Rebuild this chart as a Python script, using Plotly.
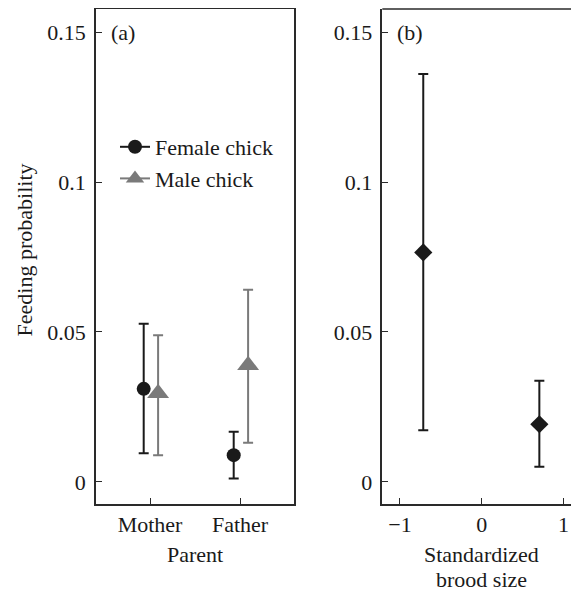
import plotly.graph_objects as go

# ---- data ----
parents = ["Mother", "Father"]
female_mean = [0.031, 0.0089]
female_hi = [0.0527, 0.0167]
female_lo = [0.0095, 0.0011]
male_mean = [0.0295, 0.0389]
male_hi = [0.0489, 0.0641]
male_lo = [0.0089, 0.0130]

brood_x = [-0.715, 0.705]
brood_mean = [0.0765, 0.0192]
brood_hi = [0.136, 0.0337]
brood_lo = [0.0172, 0.0050]

y_ticks = [0, 0.05, 0.1, 0.15]
y_ticktext = ["0", "0.05", "0.1", "0.15"]

# page has an 8px body margin; figure drawn 8px in from the top-left
OFF = 8
W, H = 579 - OFF, 591 - OFF
FONT = "Liberation Serif"
FS = 22
BLACK = "#1a1a1a"
GRAY = "#7a7a7a"
AX = "#2a2a2a"

TOP = 9 - OFF
BOT = 504 - OFF
PLOT_H = BOT - TOP

def py(page_y):
    """page pixel y -> paper fraction (relative to plot area)"""
    return (BOT - (page_y - OFF)) / PLOT_H

pos = list(range(len(parents)))
dodge_f, dodge_m = -0.07, 0.09

fig = go.Figure()

def errs(mean, hi, lo):
    return [h - m for m, h in zip(mean, hi)], [m - l for m, l in zip(mean, lo)]

ep, em = errs(female_mean, female_hi, female_lo)
fig.add_trace(go.Scatter(
    x=[p + dodge_f for p in pos], y=female_mean, mode="markers",
    marker=dict(symbol="circle", size=14, color=BLACK),
    error_y=dict(type="data", array=ep, arrayminus=em, color=BLACK, thickness=2, width=5),
    xaxis="x", yaxis="y", showlegend=False))
ep, em = errs(male_mean, male_hi, male_lo)
fig.add_trace(go.Scatter(
    x=[p + dodge_m for p in pos], y=male_mean, mode="markers",
    marker=dict(symbol="triangle-up", size=19, color=GRAY),
    error_y=dict(type="data", array=ep, arrayminus=em, color=GRAY, thickness=2, width=5),
    xaxis="x", yaxis="y", showlegend=False))
ep, em = errs(brood_mean, brood_hi, brood_lo)
fig.add_trace(go.Scatter(
    x=brood_x, y=brood_mean, mode="markers",
    marker=dict(symbol="diamond", size=14, color=BLACK),
    error_y=dict(type="data", array=ep, arrayminus=em, color=BLACK, thickness=2, width=5),
    xaxis="x2", yaxis="y2", showlegend=False))

# legend entries
fig.add_trace(go.Scatter(x=[None], y=[None], mode="lines+markers", name="Female chick",
                         line=dict(color=BLACK, width=2),
                         marker=dict(symbol="circle", size=14, color=BLACK),
                         xaxis="x", yaxis="y"))
fig.add_trace(go.Scatter(x=[None], y=[None], mode="lines+markers", name="Male chick",
                         line=dict(color=GRAY, width=2),
                         marker=dict(symbol="triangle-up", size=16, color=GRAY),
                         xaxis="x", yaxis="y"))

yr = [-0.0074, 0.1577]
common_y = dict(range=yr, tickvals=y_ticks, ticktext=y_ticktext, ticks="inside",
                ticklen=6, tickwidth=1.3, tickcolor=AX, showline=True, linecolor=AX,
                linewidth=1.5, showgrid=False, zeroline=False, ticklabelstandoff=4,
                tickfont=dict(family=FONT, size=FS, color=BLACK))
common_x = dict(ticks="inside", ticklen=6, tickwidth=1.3, tickcolor=AX, showline=True,
                linecolor=AX, linewidth=1.5, showgrid=False, zeroline=False,
                tickfont=dict(family=FONT, size=FS, color=BLACK))

fig.update_layout(
    width=W, height=H,
    margin=dict(l=0, r=0, t=TOP, b=H - BOT),
    paper_bgcolor="white", plot_bgcolor="white",
    font=dict(family=FONT, size=FS, color=BLACK),
    xaxis=dict(domain=[(96 - OFF) / W, (294 - OFF) / W], range=[-0.6, 1.6], tickvals=pos,
               ticktext=parents, mirror=True,
               title=dict(text="Parent", font=dict(family=FONT, size=FS), standoff=10),
               **common_x),
    yaxis=dict(domain=[0, 1], mirror=True, anchor="x", **common_y),
    xaxis2=dict(domain=[(382.3 - OFF) / W, 1.0], range=[-1.216, 1.19], tickvals=[-1, 0, 1],
                ticktext=["\u22121", "0", "1"], anchor="y2", **common_x),
    yaxis2=dict(domain=[0, 1], anchor="x2", **common_y),
    legend=dict(x=(115 - OFF) / W, y=1 - (126 - 9) / PLOT_H, xanchor="left", yanchor="top",
                bgcolor="rgba(0,0,0,0)", font=dict(family=FONT, size=FS, color=BLACK),
                itemwidth=30, tracegroupgap=0),
    showlegend=True,
)

fig.add_shape(type="line", xref="x2 domain", yref="y2 domain", x0=0, x1=1, y0=1, y1=1,
              line=dict(color=AX, width=1.5))

ann_font = dict(family=FONT, size=FS, color=BLACK)
# y-axis title
fig.add_annotation(text="Feeding probability", xref="paper", yref="paper",
                   x=(24 - OFF) / W, y=py(250.4), textangle=-90,
                   xanchor="center", yanchor="middle", showarrow=False, font=ann_font)
# x2 title (two lines, tighter spacing as in the reference)
fig.add_annotation(text="Standardized", xref="x2", yref="paper", x=0, y=py(554),
                   xanchor="center", yanchor="middle", showarrow=False, font=ann_font)
fig.add_annotation(text="brood size", xref="x2", yref="paper", x=0, y=py(579),
                   xanchor="center", yanchor="middle", showarrow=False, font=ann_font)

fig.add_annotation(text="(a)", xref="x domain", yref="y", x=0, y=0.15, xshift=13,
                   xanchor="left", yanchor="middle", showarrow=False, font=ann_font)
fig.add_annotation(text="(b)", xref="x2 domain", yref="y2", x=0, y=0.15, xshift=13,
                   xanchor="left", yanchor="middle", showarrow=False, font=ann_font)

fig.write_html("out.html")
